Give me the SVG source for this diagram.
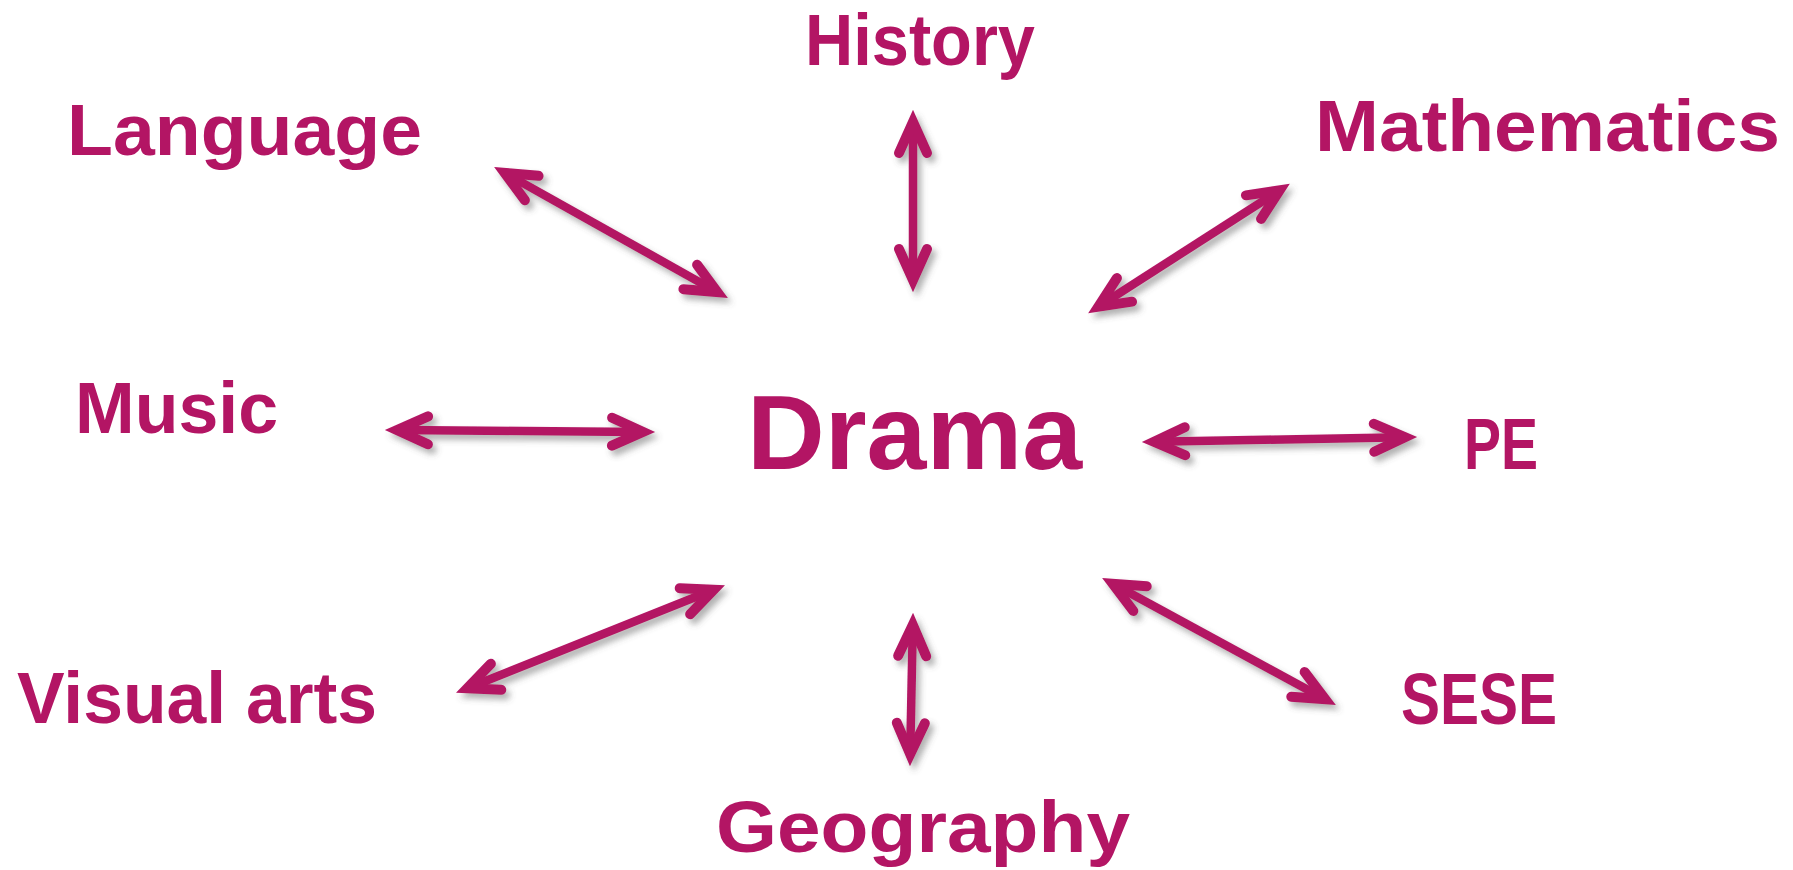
<svg xmlns="http://www.w3.org/2000/svg" width="1793" height="870" viewBox="0 0 1793 870">
<style>
.lbl{font-family:"Liberation Sans",Arial,sans-serif;font-weight:bold;font-size:72px;fill:#B31564}
.big{font-size:106px}
.con{fill:none;stroke:#B31564;stroke-width:8.5}
.head{fill:none;stroke:#B31564;stroke-width:10;stroke-linecap:round;stroke-linejoin:miter;stroke-miterlimit:4}
</style>
<defs>
<filter id="sh" x="-20%" y="-20%" width="140%" height="140%">
<feDropShadow dx="4" dy="5" stdDeviation="3" flood-color="#555" flood-opacity="0.45"/>
</filter>
<marker id="ah" markerUnits="userSpaceOnUse" viewBox="-50 -25 65 50" markerWidth="65" markerHeight="50" refX="0" refY="0" orient="auto-start-reverse">
<path class="head" d="M-31,-14 L0,0 L-31,14"/>
</marker>
</defs>
<rect width="1793" height="870" fill="#fff"/>
<g id="connectors" filter="url(#sh)">
<path class="con" d="M504.7,172.9 L717.3,292.1" marker-start="url(#ah)" marker-end="url(#ah)"/>
<path class="con" d="M913,122 L913,280" marker-start="url(#ah)" marker-end="url(#ah)"/>
<path class="con" d="M1279.6,190.4 L1098.4,306.6" marker-start="url(#ah)" marker-end="url(#ah)"/>
<path class="con" d="M397,430.1 L643,431.9" marker-start="url(#ah)" marker-end="url(#ah)"/>
<path class="con" d="M1154,441.8 L1405,437.2" marker-start="url(#ah)" marker-end="url(#ah)"/>
<path class="con" d="M713.7,589.7 L467.3,688.3" marker-start="url(#ah)" marker-end="url(#ah)"/>
<path class="con" d="M1112.8,583.8 L1325.2,699.2" marker-start="url(#ah)" marker-end="url(#ah)"/>
<path class="con" d="M912.8,625 L910.2,754" marker-start="url(#ah)" marker-end="url(#ah)"/>
</g>
<g id="drama"><text class="lbl big" x="747" y="469" textLength="335" lengthAdjust="spacingAndGlyphs">Drama</text></g>
<g id="language"><text class="lbl" x="67" y="155" textLength="355" lengthAdjust="spacingAndGlyphs">Language</text></g>
<g id="history"><text class="lbl" x="805" y="65" textLength="230" lengthAdjust="spacingAndGlyphs">History</text></g>
<g id="mathematics"><text class="lbl" x="1315" y="151" textLength="465" lengthAdjust="spacingAndGlyphs">Mathematics</text></g>
<g id="music"><text class="lbl" x="75" y="433" textLength="203" lengthAdjust="spacingAndGlyphs">Music</text></g>
<g id="pe"><text class="lbl" x="1464" y="469" textLength="74" lengthAdjust="spacingAndGlyphs">PE</text></g>
<g id="visual-arts"><text class="lbl" x="17" y="723" textLength="360" lengthAdjust="spacingAndGlyphs">Visual arts</text></g>
<g id="sese"><text class="lbl" x="1401" y="724" textLength="156" lengthAdjust="spacingAndGlyphs">SESE</text></g>
<g id="geography"><text class="lbl" x="716" y="852" textLength="414" lengthAdjust="spacingAndGlyphs">Geography</text></g>
</svg>
